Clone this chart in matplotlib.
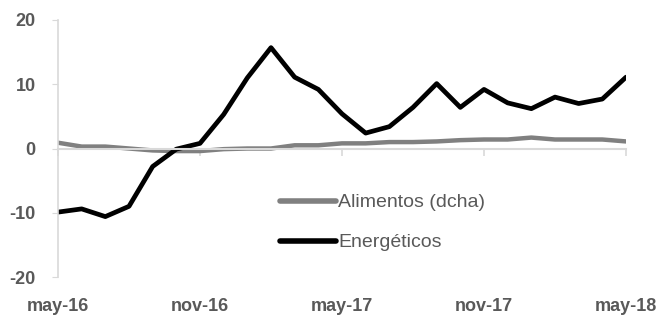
import matplotlib.pyplot as plt
import numpy as np

plt.rcParams['font.family'] = ['Liberation Sans Narrow', 'Liberation Sans', 'DejaVu Sans']
plt.rcParams['axes.unicode_minus'] = False

months = ['may-16', 'jun-16', 'jul-16', 'ago-16', 'sep-16', 'oct-16', 'nov-16', 'dic-16',
          'ene-17', 'feb-17', 'mar-17', 'abr-17', 'may-17', 'jun-17', 'jul-17', 'ago-17',
          'sep-17', 'oct-17', 'nov-17', 'dic-17', 'ene-18', 'feb-18', 'mar-18', 'abr-18', 'may-18']
energeticos = [-9.9, -9.4, -10.6, -9.0, -2.8, -0.1, 0.8, 5.3, 11.0, 15.7, 11.1, 9.2,
               5.4, 2.4, 3.4, 6.4, 10.1, 6.4, 9.2, 7.1, 6.2, 8.0, 7.0, 7.7, 11.1]
alimentos = [0.9, 0.3, 0.3, 0.0, -0.3, -0.4, -0.4, -0.1, 0.0, 0.0, 0.5, 0.5,
             0.8, 0.8, 1.0, 1.0, 1.1, 1.3, 1.4, 1.4, 1.7, 1.4, 1.4, 1.4, 1.1]
xticks_show = ['may-16', 'nov-16', 'may-17', 'nov-17', 'may-18']
yticks = [-20, -10, 0, 10, 20]

txt = '#595959'
axc = '#d9d9d9'

fig = plt.figure(figsize=(6.58, 3.15), dpi=100)
ax = fig.add_axes([58 / 658, 38 / 315, 568 / 658, 257 / 315])

x = np.arange(len(months))
ax.plot(x, alimentos, color='#808080', lw=3.2, solid_capstyle='round', label='Alimentos (dcha)')
ax.plot(x, energeticos, color='black', lw=3.4, solid_capstyle='round', label='Energéticos')

ax.set_xlim(0, len(months) - 1)
ax.set_ylim(-20, 20)
ax.set_yticks(yticks)
ax.tick_params(axis='y', length=4, color=axc, labelsize=13, labelcolor=txt, pad=12)
for lab in ax.get_yticklabels():
    lab.set_fontweight('bold')

for s in ['top', 'right']:
    ax.spines[s].set_visible(False)
ax.spines['left'].set_color(axc)
ax.spines['left'].set_linewidth(1.2)
ax.spines['bottom'].set_position(('data', 0))
ax.spines['bottom'].set_color(axc)
ax.spines['bottom'].set_linewidth(1.5)

pos = [months.index(m) for m in xticks_show]
ax.set_xticks(pos)
ax.tick_params(axis='x', length=5, width=1.2, color=axc, labelbottom=False)

sec = ax.secondary_xaxis(0.0)
sec.set_xticks(pos)
sec.set_xticklabels(xticks_show)
sec.spines['bottom'].set_visible(False)
sec.tick_params(axis='x', length=0, pad=15, labelsize=13, labelcolor=txt)
for lab in sec.get_xticklabels():
    lab.set_fontweight('bold')

leg = ax.legend(loc='center left', bbox_to_anchor=(0.391, 0.212), frameon=False,
                fontsize=14, handlelength=2.9, handletextpad=0.1, labelspacing=1.15,
                borderpad=0, borderaxespad=0)
for t in leg.get_texts():
    t.set_color(txt)
for h in leg.get_lines():
    h.set_linewidth(4)

fig.savefig('out.png', dpi=100)
